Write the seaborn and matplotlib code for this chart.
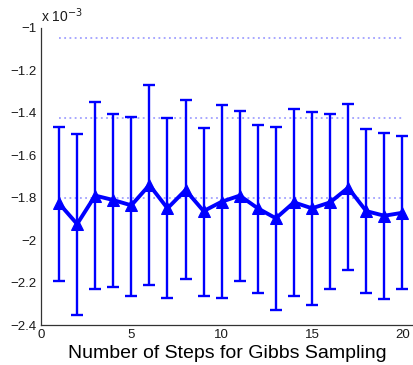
import matplotlib
matplotlib.use("Agg")
import matplotlib.pyplot as plt
import seaborn as sns
import pandas as pd
from matplotlib.ticker import FuncFormatter

steps = list(range(1, 21))
mean_vals = [-1.827, -1.924, -1.790, -1.811, -1.836, -1.740, -1.850, -1.764, -1.863, -1.819,
             -1.790, -1.850, -1.897, -1.822, -1.850, -1.822, -1.753, -1.863, -1.885, -1.871]
upper_vals = [-1.468, -1.500, -1.350, -1.404, -1.420, -1.269, -1.424, -1.339, -1.473, -1.363,
              -1.391, -1.459, -1.467, -1.383, -1.398, -1.405, -1.358, -1.475, -1.494, -1.508]
lower_vals = [-2.191, -2.352, -2.231, -2.221, -2.262, -2.212, -2.273, -2.183, -2.265, -2.274,
              -2.191, -2.248, -2.330, -2.265, -2.306, -2.232, -2.141, -2.248, -2.278, -2.231]
ref_levels = [-1.049, -1.424, -1.801]
yticks = [-2.4, -2.2, -2.0, -1.8, -1.6, -1.4, -1.2, -1.0]
xticks = [0, 5, 10, 15, 20]
xlabel = "Number of Steps for Gibbs Sampling"

sns.set_style("white")
plt.rcParams['font.family'] = ['Liberation Sans', 'DejaVu Sans']

df = pd.DataFrame({"step": steps, "mean": mean_vals})

fig = plt.figure(figsize=(4.13, 3.65), dpi=100)
ax = fig.add_axes([41/413, 40/365, (413-41)/413, (325-28)/365])

blue = "#0000ff"
err_low = [m - l for m, l in zip(mean_vals, lower_vals)]
err_up = [u - m for m, u in zip(mean_vals, upper_vals)]
ax.errorbar(steps, mean_vals, yerr=[err_low, err_up], fmt='none', ecolor=blue,
            elinewidth=1.7, capsize=4, capthick=1.7, zorder=2)
sns.lineplot(data=df, x="step", y="mean", ax=ax, color=blue, linewidth=2.8,
             marker="^", markersize=8.5, markeredgecolor=blue, zorder=3)

for lvl in ref_levels:
    ax.hlines(lvl, steps[0], steps[-1], colors="#a0a0ff", linestyles=(0, (1, 1.9)),
              linewidth=1.3, zorder=1)

ax.set_xlim(0, 20.59)
ax.set_ylim(-2.4, -1.0)
ax.set_xticks(xticks)
ax.set_yticks(yticks)
ax.yaxis.set_major_formatter(FuncFormatter(lambda v, p: ("%g" % round(v, 6)).replace("-", "\u2212")))
ax.set_xlabel(xlabel, fontsize=14, labelpad=3, color="black")
ax.set_ylabel("")
ax.tick_params(direction='in', length=4, width=0.8, labelsize=9.5, colors="#333333",
               labelcolor="#1a1a1a", pad=3)
for s in ["top", "right"]:
    ax.spines[s].set_visible(False)
for s in ["left", "bottom"]:
    ax.spines[s].set_color("#333333")
    ax.spines[s].set_linewidth(0.9)

ax.text(0.0, 1.01, "x 10$^{\u22123}$", transform=ax.transAxes, fontsize=10,
        ha="left", va="bottom", color="#1a1a1a")

fig.savefig("out.png", dpi=100)
